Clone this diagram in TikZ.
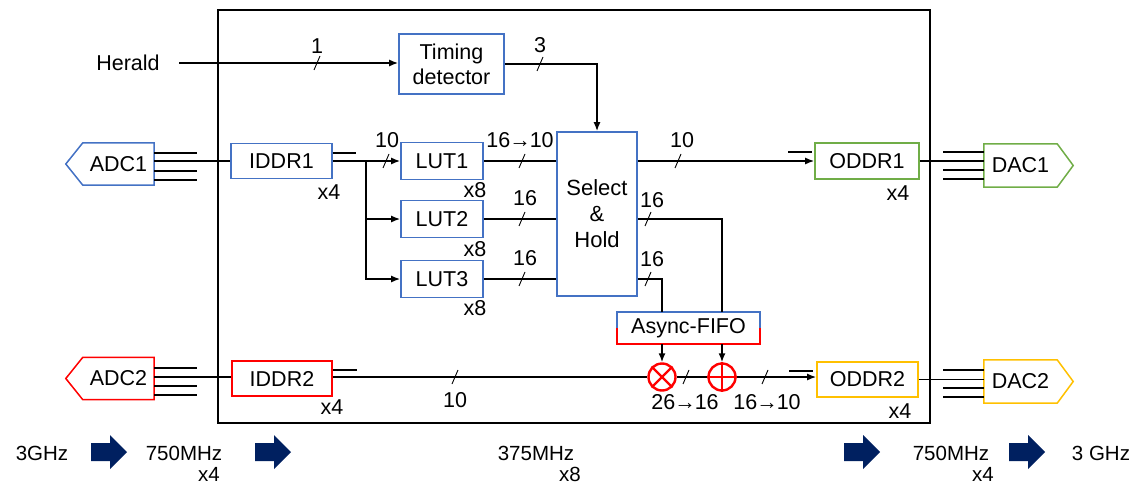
\documentclass[tikz,border=0pt]{standalone}
\usepackage{fontspec}
\setmainfont{Liberation Sans}
\usetikzlibrary{arrows.meta}
\definecolor{cblue}{HTML}{4472C4}
\definecolor{cgreen}{HTML}{70AD47}
\definecolor{cred}{HTML}{FF0000}
\definecolor{cyel}{HTML}{FFC000}
\definecolor{cnavy}{HTML}{002060}
\begin{document}
\begin{tikzpicture}[x=1pt,y=-1pt,
  font=\fontsize{21.5}{24}\selectfont,
  box/.style={draw=#1,line width=1.6pt,minimum width=100pt,minimum height=35pt,inner sep=0pt,align=center},
  plain/.style={minimum width=71pt,minimum height=42pt,inner sep=0pt},
  lbl/.style={inner sep=0pt},
  clk/.style={inner sep=0pt,font=\fontsize{20.5}{22}\selectfont},
  wire/.style={line width=1.6pt},
  arr/.style={wire,-{Latex[length=9pt,width=7pt]}},
  slash/.style={line width=0.9pt},
  op/.style={draw=cred,line width=2.4pt,circle,minimum size=27pt,inner sep=0pt}]
\useasboundingbox (0,0) rectangle (1139,484);
% frame
\draw[line width=1.5pt] (218,10) rectangle (930,423);

% nodes
\node[lbl] (herald) at (128,63) {Herald};
\coordinate (hs) at (179,63);
\node[box=cblue,minimum width=105pt,minimum height=60pt,font=\fontsize{21.5}{25}\selectfont] (timing) at (451.5,64) {Timing\\detector};
\node[box=cblue,minimum width=80pt,minimum height=164pt,font=\fontsize{22}{26}\selectfont] (sh) at (597,214) {Select\\\&\\Hold};

\node[plain] (adc1) at (118.5,164) {ADC1};
\draw[cblue,line width=1.5pt] (adc1.north east) -- (adc1.north west) -- ([xshift=-17pt]adc1.west) -- (adc1.south west) -- (adc1.south east) -- cycle;
\node[plain] (adc2) at (118.5,378.5) {ADC2};
\draw[cred,line width=1.5pt] (adc2.north east) -- (adc2.north west) -- ([xshift=-17pt]adc2.west) -- (adc2.south west) -- (adc2.south east) -- cycle;
\node[plain,minimum width=73pt,minimum height=43pt] (dac1) at (1020.5,165.5) {DAC1};
\draw[cgreen,line width=1.5pt] (dac1.north west) -- (dac1.north east) -- ([xshift=16pt]dac1.east) -- (dac1.south east) -- (dac1.south west) -- cycle;
\node[plain,minimum width=73pt,minimum height=43pt] (dac2) at (1020.5,381.5) {DAC2};
\draw[cyel,line width=1.5pt] (dac2.north west) -- (dac2.north east) -- ([xshift=16pt]dac2.east) -- (dac2.south east) -- (dac2.south west) -- cycle;

\node[box=cblue,minimum width=101pt] (iddr1) at (281.5,161) {IDDR1};
\node[box=cred] (iddr2) at (282,378.5) {IDDR2};
\node[box=cgreen,minimum width=104pt,minimum height=36pt] (oddr1) at (867,161) {ODDR1};
\node[box=cyel,minimum width=101pt] (oddr2) at (867.5,379.5) {ODDR2};

\node[box=cblue,minimum width=82pt,minimum height=37pt] (lut1) at (442,161) {LUT1};
\node[box=cblue,minimum width=82pt,minimum height=37pt] (lut2) at (442,219) {LUT2};
\node[box=cblue,minimum width=82pt,minimum height=37pt] (lut3) at (442,279) {LUT3};

\node[minimum width=143pt,minimum height=32pt,inner sep=0pt] (fifo) at (688.5,328) {Async-FIFO};
\draw[cblue,line width=1.6pt] (fifo.west) -- (fifo.north west) -- (fifo.north east) -- (fifo.east);
\draw[cred,line width=1.6pt] (fifo.west) -- (fifo.south west) -- (fifo.south east) -- (fifo.east);

\node[op] (mult) at (662,377) {};
\draw[cred,line width=2.4pt] (mult.north east) -- (mult.south west) (mult.north west) -- (mult.south east);
\node[op] (add) at (722,377) {};
\draw[cred,line width=2.4pt] (add.north) -- (add.south) (add.west) -- (add.east);

% x labels
\node[lbl] (xa) at (329,192) {x4};
\node[lbl] (xb) at (898,193) {x4};
\node[lbl] (xc) at (332,407) {x4};
\node[lbl] (xd) at (900,411) {x4};
\node[lbl] (xe) at (475,190) {x8};
\node[lbl] (xf) at (475,249) {x8};
\node[lbl] (xg) at (475,308) {x8};

% ADC / DAC bus lines
\foreach \y in {153,171,180} \draw[wire] (adc1.east |- 0,\y) -- (197,\y);
\draw[wire] (adc1.east |- iddr1.west) -- (iddr1.west);
\foreach \y in {368,386,395} \draw[wire] (adc2.east |- 0,\y) -- (197,\y);
\draw[wire] (adc2.east |- 0,377) -- (iddr2.west |- 0,377);
\foreach \y in {152,170,179} \draw[wire] (943,\y) -- (dac1.west |- 0,\y);
\draw[wire] (oddr1.east) -- (oddr1.east -| dac1.west);
\foreach \y in {370,388,397} \draw[wire] (943,\y) -- (dac2.west |- 0,\y);
\draw[wire] (oddr2.east) -- (oddr2.east -| dac2.west);

% short double-line marks
\draw[wire] ([yshift=8pt]iddr1.east) -- ++(23,0);
\draw[wire] ([yshift=8.5pt]iddr2.east) -- ++(24,0);
\draw[wire] ([xshift=-26pt,yshift=9pt]oddr1.west) -- ++(24,0);
\draw[wire] (789,371) -- (813,371);

% herald & timing
\draw[arr] (hs) -- (hs -| timing.west);
\draw[arr] (timing.east) -| (sh.north);

% IDDR1 to LUTs
\coordinate (bus) at (366,161);
\draw[arr] (iddr1.east) -- (lut1.west);
\draw[arr] (bus) |- (lut2.west);
\draw[arr] (bus) |- (lut3.west);
\draw[wire] (lut1.east) -- (lut1.east -| sh.west);
\draw[wire] (lut2.east) -- (lut2.east -| sh.west);
\draw[wire] (lut3.east) -- (lut3.east -| sh.west);

% S&H outputs
\draw[arr] (sh.east |- oddr1.west) -- (oddr1.west);
\draw[wire] (sh.east |- lut2.east) -| (fifo.north -| add);
\draw[wire] (sh.east |- lut3.east) -| (fifo.north -| mult);
\draw[arr] (fifo.south -| mult) -- (mult.north);
\draw[arr] (fifo.south -| add) -- (add.north);

% second channel
\draw[wire] (iddr2.east |- mult) -- (mult.west);
\draw[wire] (mult.east) -- (add.west);
\draw[arr] (add.east) -- (add.east -| oddr2.west);

% bus width slashes
\foreach \p in {(386,161),(522,161),(522,219),(522,279),(678,161),(648,219),(648,279),(317,63),(540,64),(455,377),(686,377),(765,377)}
  \draw[slash] \p ++(-3,7) -- ++(6,-14);

% width labels
\node[lbl] (w1) at (317,46) {1};
\node[lbl] (w2) at (540,45) {3};
\node[lbl] (w3) at (387,140) {10};
\node[lbl] (w4) at (520,140) {16\kern-1pt→\kern-1pt10};
\node[lbl] (w5) at (525,198) {16};
\node[lbl] (w6) at (525,258) {16};
\node[lbl] (w7) at (682,140) {10};
\node[lbl] (w8) at (652,200) {16};
\node[lbl] (w9) at (652,259) {16};
\node[lbl] (w10) at (455,400) {10};
\node[lbl] (w11) at (685,402) {26\kern-1pt→\kern-1pt16};
\node[lbl] (w12) at (767,402) {16\kern-1pt→\kern-1pt10};

% bottom clock row
\foreach \x in {91,255,844,1009}
  \fill[cnavy] (\x,443) -- ++(19,0) -- ++(0,-8) -- ++(17,17) -- ++(-17,17) -- ++(0,-8) -- ++(-19,0) -- cycle;
\node[clk] (c1) at (42,453) {3GHz};
\node[clk] (c2) at (184,453) {750MHz};
\node[clk] (c2x) at (209,474) {x4};
\node[clk] (c3) at (536,453) {375MHz};
\node[clk] (c3x) at (570,474) {x8};
\node[clk] (c4) at (951,453) {750MHz};
\node[clk] (c4x) at (983,474) {x4};
\node[clk] (c5) at (1101,453) {3 GHz};
\end{tikzpicture}
\end{document}
